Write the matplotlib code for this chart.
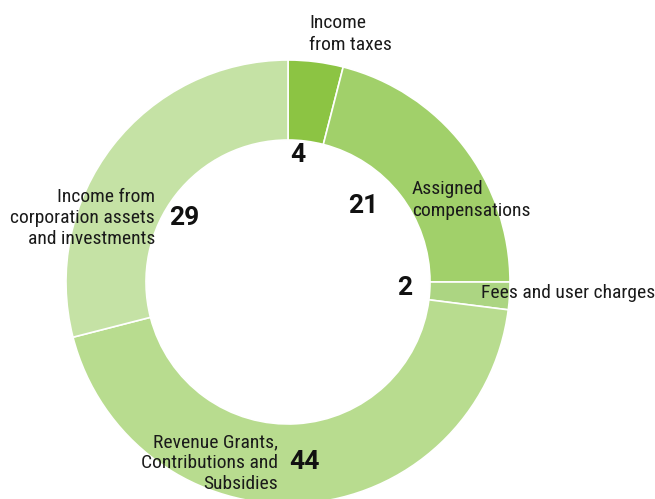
import matplotlib.pyplot as plt
from matplotlib import font_manager

# donut chart of revenue shares
values = [4, 21, 2, 44, 29]
labels = ['Income\nfrom taxes', 'Assigned\ncompensations', 'Fees and user charges',
          'Revenue Grants,\nContributions and\nSubsidies',
          'Income from\ncorporation assets\nand investments']
colors = ['#8cc443', '#a1d06a', '#acd582', '#b8dc8f', '#c5e2a5']

names = {f.name for f in font_manager.fontManager.ttflist}
fam = 'Roboto'
for cand in ['Roboto Condensed', 'Liberation Sans Narrow']:
    if cand in names:
        fam = cand
        break
plt.rcParams['font.family'] = [fam, 'DejaVu Sans']

W, H = 655, 499
fig = plt.figure(figsize=(W / 100, H / 100), dpi=100)
ax = fig.add_axes([0, 0, 1, 1])

cx, cy, R = 288, H - 282, 222
ax.pie(values, colors=colors, startangle=90, counterclock=False,
       center=(cx, cy), radius=R, frame=True,
       wedgeprops=dict(width=80, edgecolor='white', linewidth=1.2))
ax.set_xlim(0, W)
ax.set_ylim(0, H)
ax.set_aspect('equal')
ax.axis('off')

# (x, y from top, ha) for category labels and value labels
lab_pos = [(309, 34, 'left'), (412, 200, 'left'), (481, 293, 'left'),
           (278, 463, 'right'), (155, 218, 'right')]
num_pos = [(298, 155), (363, 206), (405, 288), (304, 462), (184, 218)]

for v, lab, (lx, ly, ha), (nx, ny) in zip(values, labels, lab_pos, num_pos):
    ax.text(lx, H - ly, lab, ha=ha, va='center', fontsize=14, color='#1a1a1a',
            linespacing=1.22, multialignment=ha)
    ax.text(nx, H - ny, str(v), ha='center', va='center', fontsize=19,
            fontweight='bold', color='#111111', family=['Roboto', 'DejaVu Sans'])

fig.savefig('out.png', dpi=100)
